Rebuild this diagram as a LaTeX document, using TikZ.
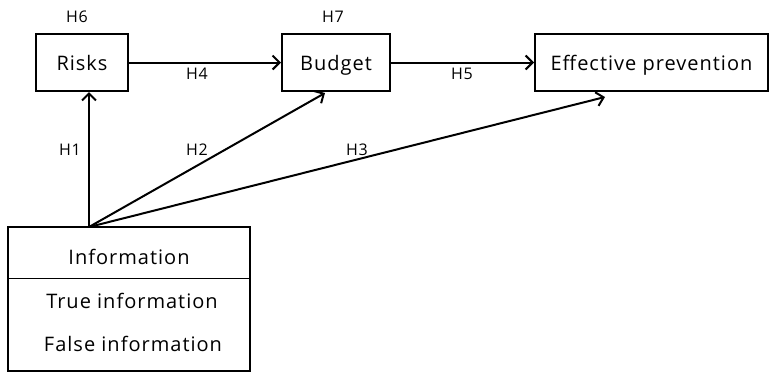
\documentclass[tikz,border=0pt]{standalone}
\usepackage{fontspec}
\setmainfont{Open Sans}[LetterSpace=5]
\usetikzlibrary{arrows.meta,calc}
\begin{document}
\begin{tikzpicture}[x=1pt,y=-1pt,
  box/.style={draw,line width=2pt,inner sep=0pt,text height=16pt,text depth=0pt,font=\fontsize{20}{24}\selectfont},
  lab/.style={anchor=base,inner sep=0pt,font=\fontsize{16}{19}\selectfont},
  txt/.style={anchor=base,inner sep=0pt,font=\fontsize{20}{24}\selectfont},
  conn/.style={line width=2pt,-{Straight Barb[length=7pt,width=14pt,line width=2pt]}}]
\useasboundingbox (0,0) rectangle (771,373);
\node[box,minimum width=92pt,minimum height=57pt] (risks) at (82,62.5) {Risks};
\node[box,minimum width=108pt,minimum height=57pt] (budget) at (336,62.5) {Budget};
\node[box,minimum width=233pt,minimum height=57pt] (ep) at (651.5,62.5) {Effective prevention};
\node[draw,line width=2pt,minimum width=242pt,minimum height=144pt,inner sep=0pt] (info) at (129,299) {};
\draw[line width=1pt] (info.west |- 0,278) coordinate (dl) -- (info.east |- 0,278) coordinate (dr);
\node[txt] (t1) at (129,264) {Information};
\node[txt] (t2) at (132,308) {True information};
\node[txt] (t3) at (133,351) {False information};
\coordinate (src) at (89,227);
\coordinate (h2end) at (325,93);
\coordinate (h3end) at (605,97);
\draw[conn] (risks.east) -- (budget.west);
\draw[conn] (budget.east) -- (ep.west);
\draw[conn] (src) -- (src |- risks.south);
\draw[conn] (src) -- (h2end);
\draw[conn] (src) -- (h3end);
\node[lab] (h6) at (77,22) {H6};
\node[lab] (h7) at (333,22) {H7};
\node[lab] (h4) at (197,79) {H4};
\node[lab] (h5) at (462,79) {H5};
\node[lab] (h1) at (70,155) {H1};
\node[lab] (h2) at (197,155) {H2};
\node[lab] (h3) at (357,155) {H3};
\end{tikzpicture}
\end{document}
